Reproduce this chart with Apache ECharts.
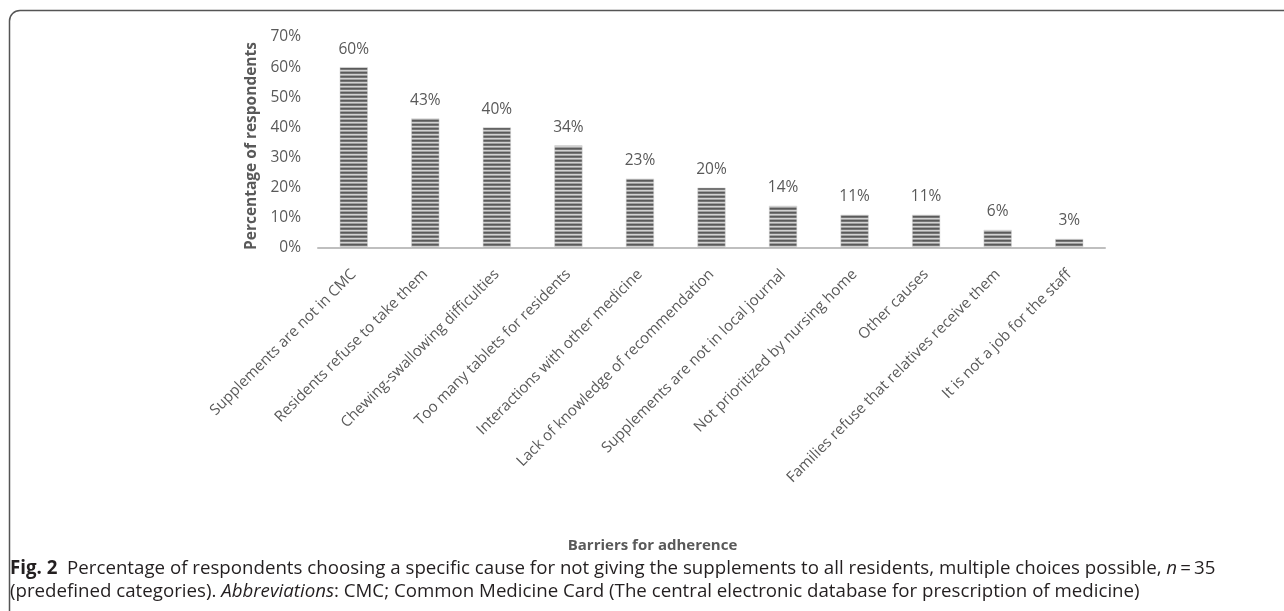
<!DOCTYPE html>
<html><head><meta charset="utf-8">
<script src="https://cdn.jsdelivr.net/npm/echarts@6/dist/echarts.min.js"></script>
<style>html,body{margin:0;padding:0;background:#fff}#c{width:1284px;height:611px}</style>
</head><body><div id="c"></div>
<script>
const categories = [
  'Supplements are not in CMC',
  'Residents refuse to take them',
  'Chewing-swallowing difficulties',
  'Too many tablets for residents',
  'Interactions with other medicine',
  'Lack of knowledge of recommendation',
  'Supplements are not in local journal',
  'Not prioritized by nursing home',
  'Other causes',
  'Families refuse that relatives receive them',
  'It is not a job for the staff'
];
const percentValues = [60, 43, 40, 34, 23, 20, 14, 11, 11, 6, 3];
const yTicks = [0, 10, 20, 30, 40, 50, 60, 70];

// striped fill pattern
const pc = document.createElement('canvas');
pc.width = 4; pc.height = 4;
const pctx = pc.getContext('2d');
const rows = ['#5a5a5a', '#767676', '#d2d2d2', '#a0a0a0'];
rows.forEach((c, i) => { pctx.fillStyle = c; pctx.fillRect(0, i, 4, 1); });

const chart = echarts.init(document.getElementById('c'), null, {renderer: 'canvas'});
const FONT = "'Open Sans', 'Noto Sans', sans-serif";
chart.setOption({
  animation: false,
  backgroundColor: '#ffffff',
  grid: {left: 318, right: 179, top: 37, bottom: 363, containLabel: false},
  xAxis: {
    type: 'category',
    data: categories,
    name: 'Barriers for adherence',
    nameLocation: 'middle',
    nameGap: 290,
    nameTextStyle: {fontFamily: FONT, fontSize: 15, fontWeight: 'bold', color: '#595959', padding: [0, 118, 0, 0]},
    axisLine: {lineStyle: {color: '#bfbfbf', width: 2}},
    axisTick: {show: false},
    axisLabel: {interval: 0, rotate: 45, margin: 24, fontFamily: FONT, fontSize: 15, color: '#595959'}
  },
  yAxis: {
    type: 'value',
    min: 0, max: 70, interval: 10,
    name: 'Percentage of respondents',
    nameLocation: 'middle',
    nameGap: 54,
    nameTextStyle: {fontFamily: FONT, fontSize: 15.5, fontWeight: 'bold', color: '#595959', padding: [0, 7, 0, 0]},
    axisLine: {show: false},
    axisTick: {show: false},
    splitLine: {show: false},
    axisLabel: {margin: 17, fontFamily: FONT, fontSize: 15.5, color: '#595959',
      formatter: v => yTicks.includes(v) ? v + '%' : ''}
  },
  series: [{
    type: 'bar',
    data: percentValues,
    barWidth: 28,
    itemStyle: {color: {image: pc, repeat: 'repeat'}, borderColor: '#cfcfcf', borderWidth: 0.5},
    label: {show: true, position: 'top', distance: 10, fontFamily: FONT, fontSize: 15.5, color: '#595959',
      formatter: p => p.value + '%'}
  }],
  graphic: [
    {type: 'line', silent: true, shape: {x1: 9.5, y1: 21, x2: 9.5, y2: 611},
     style: {stroke: '#555', lineWidth: 1.5}},
    {type: 'line', silent: true, shape: {x1: 20, y1: 10.5, x2: 1284, y2: 10.5},
     style: {stroke: '#555', lineWidth: 1.5}},
    {type: 'arc', silent: true,
     shape: {cx: 20, cy: 21, r: 10.5, startAngle: Math.PI, endAngle: Math.PI * 1.5, clockwise: true},
     style: {fill: null, stroke: '#555', lineWidth: 1.5}},
    {type: 'text', left: 10, top: 557, silent: true,
     style: {
       text: '{b|Fig. 2}  Percentage of respondents choosing a specific cause for not giving the supplements to all residents, multiple choices possible, {i|n}\u2009=\u200935\n(predefined categories). {i|Abbreviations}: CMC; Common Medicine Card (The central electronic database for prescription of medicine)',
       fontFamily: FONT, fontSize: 18.7, fill: '#231f20', lineHeight: 23,
       rich: {
         b: {fontFamily: FONT, fontSize: 18.7, fontWeight: 'bold', fill: '#231f20', lineHeight: 23},
         i: {fontFamily: FONT, fontSize: 18.7, fontStyle: 'italic', fill: '#231f20', lineHeight: 23}
       }
     }}
  ]
});
</script></body></html>
